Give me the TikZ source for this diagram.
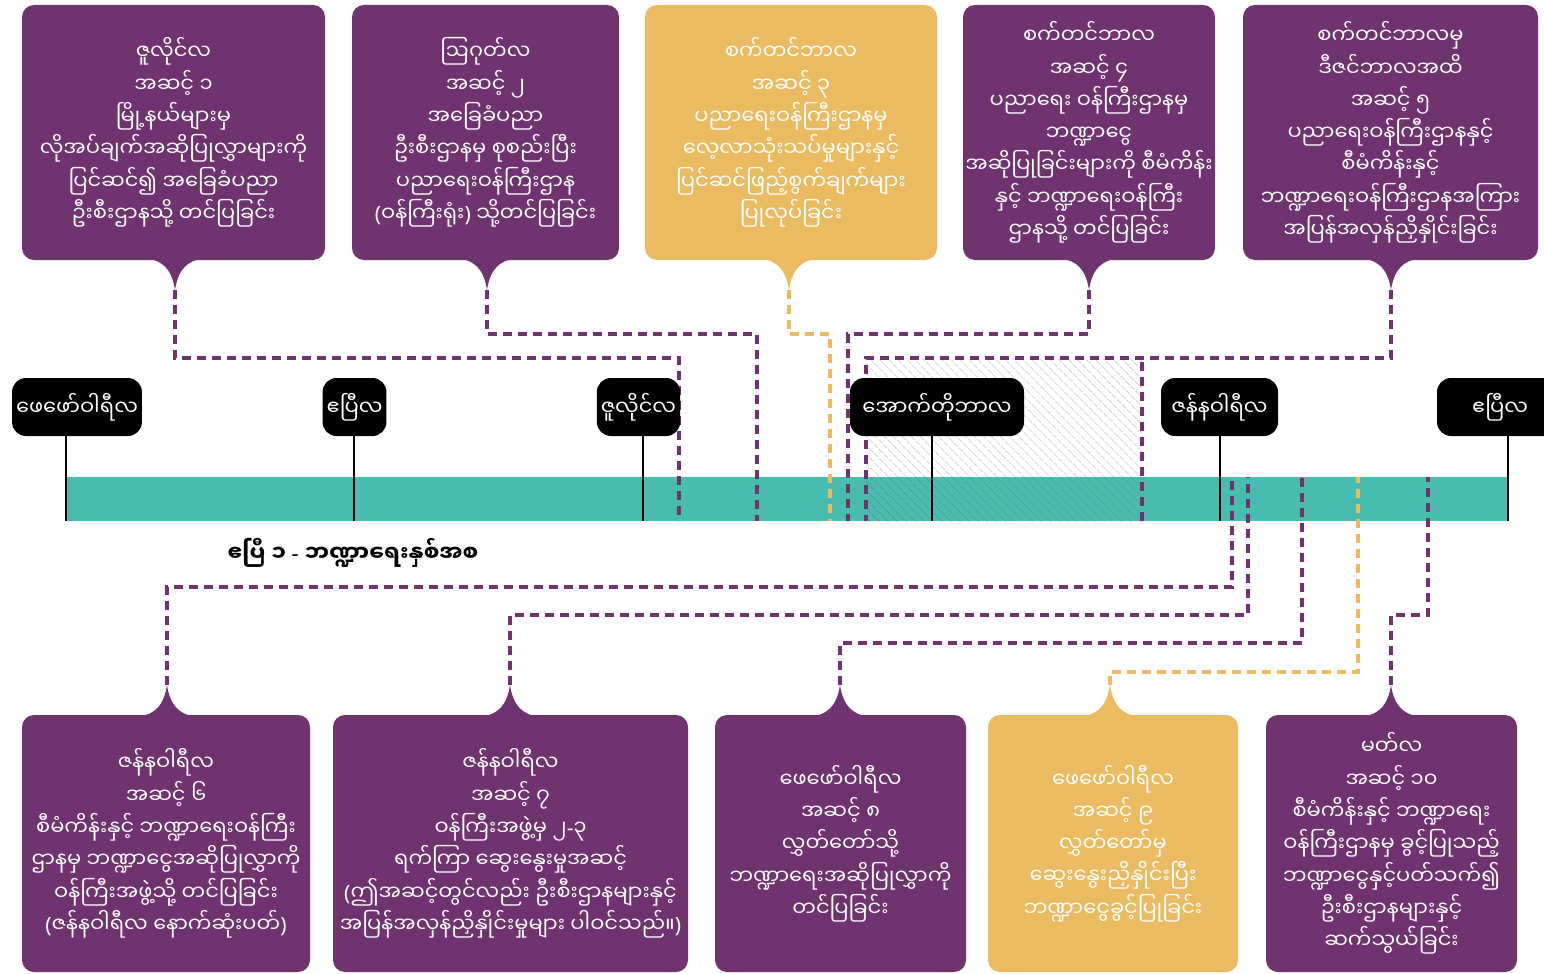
\documentclass[tikz,border=0pt]{standalone}
\usepackage{fontspec}
\newfontfamily\mmfont[Script=Myanmar]{Noto Sans Myanmar UI}
\newfontfamily\latfont{Noto Sans}
\newcommand\lat[1]{{\latfont #1}}
\usetikzlibrary{patterns.meta}

\definecolor{plum}{HTML}{6F3370}
\definecolor{gold}{HTML}{EABB60}
\definecolor{sea}{HTML}{48BDAF}

\begin{document}
\begin{tikzpicture}[x=1pt, y=-1pt,
    mm/.style={font=\mmfont\fontsize{21}{32.3}\selectfont},
    stagebox/.style={mm, text=white, align=center, rounded corners=12pt, inner sep=0pt},
    monthtag/.style={mm, fill=black, text=white, rounded corners=14pt,
        minimum height=58pt, inner xsep=4pt},
    link/.style={plum, line width=3.2pt, dash pattern=on 9pt off 6pt},
    goldlink/.style={link, gold},
    stem/.style={black, line width=2.4pt}]
    \useasboundingbox (0,0) rectangle (1544,974);

    % upper stages
    \node[stagebox, fill=plum, minimum width=303pt, minimum height=255pt] (s1) at (173.5,132.5)
        {ဇူလိုင်လ\\အဆင့် ၁\\မြို့နယ်များမှ\\လိုအပ်ချက်အဆိုပြုလွှာများကို\\ပြင်ဆင်၍ အခြေခံပညာ\\ဦးစီးဌာနသို့ တင်ပြခြင်း};
    \node[stagebox, fill=plum, minimum width=267pt, minimum height=255pt] (s2) at (485.5,132.5)
        {ဩဂုတ်လ\\အဆင့် ၂\\အခြေခံပညာ\\ဦးစီးဌာနမှ စုစည်းပြီး\\ပညာရေးဝန်ကြီးဌာန\\\lat{(}ဝန်ကြီးရုံး\lat{)} သို့တင်ပြခြင်း};
    \node[stagebox, fill=gold, minimum width=292pt, minimum height=255pt] (s3) at (791,132.5)
        {စက်တင်ဘာလ\\အဆင့် ၃\\ပညာရေးဝန်ကြီးဌာနမှ\\လေ့လာသုံးသပ်မှုများနှင့်\\ပြင်ဆင်ဖြည့်စွက်ချက်များ\\ပြုလုပ်ခြင်း};
    \node[stagebox, fill=plum, minimum width=252pt, minimum height=255pt] (s4) at (1089,132.5)
        {စက်တင်ဘာလ\\အဆင့် ၄\\ပညာရေး ဝန်ကြီးဌာနမှ\\ဘဏ္ဍာငွေ\\အဆိုပြုခြင်းများကို စီမံကိန်း\\နှင့် ဘဏ္ဍာရေးဝန်ကြီး\\ဌာနသို့ တင်ပြခြင်း};
    \node[stagebox, fill=plum, minimum width=295pt, minimum height=255pt] (s5) at (1390.5,132.5)
        {စက်တင်ဘာလမှ\\ဒီဇင်ဘာလအထိ\\အဆင့် ၅\\ပညာရေးဝန်ကြီးဌာနနှင့်\\စီမံကိန်းနှင့်\\ဘဏ္ဍာရေးဝန်ကြီးဌာနအကြား\\အပြန်အလှန်ညှိနှိုင်းခြင်း};

    % lower stages
    \node[stagebox, fill=plum, minimum width=288pt, minimum height=257pt] (s6) at (166,843.5)
        {ဇန်နဝါရီလ\\အဆင့် ၆\\စီမံကိန်းနှင့် ဘဏ္ဍာရေးဝန်ကြီး\\ဌာနမှ ဘဏ္ဍာငွေအဆိုပြုလွှာကို\\ဝန်ကြီးအဖွဲ့သို့ တင်ပြခြင်း\\\lat{(}ဇန်နဝါရီလ နောက်ဆုံးပတ်\lat{)}};
    \node[stagebox, fill=plum, minimum width=355pt, minimum height=257pt] (s7) at (510.5,843.5)
        {ဇန်နဝါရီလ\\အဆင့် ၇\\ဝန်ကြီးအဖွဲ့မှ ၂\lat{-}၃\\ရက်ကြာ ဆွေးနွေးမှုအဆင့်\\\lat{(}ဤအဆင့်တွင်လည်း ဦးစီးဌာနများနှင့်\\အပြန်အလှန်ညှိနှိုင်းမှုများ ပါဝင်သည်။\lat{)}};
    \node[stagebox, fill=plum, minimum width=251pt, minimum height=257pt] (s8) at (840.5,843.5)
        {ဖေဖော်ဝါရီလ\\အဆင့် ၈\\လွှတ်တော်သို့\\ဘဏ္ဍာရေးအဆိုပြုလွှာကို\\တင်ပြခြင်း};
    \node[stagebox, fill=gold, minimum width=250pt, minimum height=257pt] (s9) at (1113,843.5)
        {ဖေဖော်ဝါရီလ\\အဆင့် ၉\\လွှတ်တော်မှ\\ဆွေးနွေးညှိနှိုင်းပြီး\\ဘဏ္ဍာငွေခွင့်ပြုခြင်း};
    \node[stagebox, fill=plum, minimum width=251pt, minimum height=257pt] (s10) at (1391.5,843.5)
        {မတ်လ\\အဆင့် ၁၀\\စီမံကိန်းနှင့် ဘဏ္ဍာရေး\\ဝန်ကြီးဌာနမှ ခွင့်ပြုသည့်\\ဘဏ္ဍာငွေနှင့်ပတ်သက်၍\\ဦးစီးဌာနများနှင့်\\ဆက်သွယ်ခြင်း};

    \foreach \n/\x/\c in {1/175/plum, 2/487/plum, 3/789/gold, 4/1089/plum, 5/1391/plum} {
        \fill[\c] (\x-36,258) .. controls (\x-12,258) and (\x-3,270) .. (\x,290)
            .. controls (\x+3,270) and (\x+12,258) .. (\x+36,258) -- cycle;
        \coordinate (up\n) at (\x,290);
    }
    \foreach \n/\x/\c in {6/167/plum, 7/510/plum, 8/840/plum, 9/1110/gold, 10/1391/plum} {
        \fill[\c] (\x-36,717) .. controls (\x-12,717) and (\x-3,705) .. (\x,685)
            .. controls (\x+3,705) and (\x+12,717) .. (\x+36,717) -- cycle;
        \coordinate (dn\n) at (\x,685);
    }

    % timeline
    \fill[sea] (66,477) rectangle (1508,521);
    \fill[pattern={Lines[angle=-45, distance=6.5pt, line width=0.8pt]}, pattern color=plum,
        fill opacity=0.3] (866,358) rectangle (1142,521);

    \foreach \m/\x in {feb/66, apr/354, jul/643, oct/932, jan/1220, apr2/1508}
        \coordinate (m\m) at (\x,521);

    % links above the bar
    \coordinate (e1) at (679,521);
    \coordinate (e2) at (757,521);
    \coordinate (e3) at (830,521);
    \coordinate (e4) at (848,521);
    \coordinate (e5) at (866,521);
    \coordinate (e5b) at (1142,521);
    \draw[link] (up1) -- ++(0,68) -| (e1);
    \draw[link] (up2) -- ++(0,44) -| (e2);
    \draw[goldlink] (up3) -- ++(0,44) -| (e3);
    \draw[link] (up4) -- ++(0,44) -| (e4);
    \draw[link] (up5) -- ++(0,68) -| (e5);
    \draw[link] (e5b) -- (e5b |- 0,358);

    % links below the bar
    \coordinate (b6) at (1232,477);
    \coordinate (b7) at (1248,477);
    \coordinate (b8) at (1302,477);
    \coordinate (b9) at (1358,477);
    \coordinate (b10) at (1428,477);
    \draw[link] (dn6) -- ++(0,-98) -| (b6);
    \draw[link] (dn7) -- ++(0,-70) -| (b7);
    \draw[link] (dn8) -- ++(0,-42) -| (b8);
    \draw[goldlink] (dn9) -- ++(0,-13) -| (b9);
    \draw[link] (dn10) -- ++(0,-70) -| (b10);

    % months
    \node[monthtag, minimum width=124pt] (feb) at (77,407) {ဖေဖော်ဝါရီလ};
    \node[monthtag, minimum width=63pt] (apr) at (354.5,407) {ဧပြီလ};
    \node[monthtag, minimum width=78pt] (jul) at (638.5,407) {ဇူလိုင်လ};
    \node[monthtag, minimum width=174pt] (oct) at (937,407) {အောက်တိုဘာလ};
    \node[monthtag, minimum width=117pt] (jan) at (1219.5,407) {ဇန်နဝါရီလ};
    \node[monthtag, minimum width=126pt] (apr2) at (1500,407) {ဧပြီလ};
    \foreach \m in {feb, apr, jul, oct, jan, apr2}
        \draw[stem] (m\m) -- (m\m |- \m.south);

    \node[font=\mmfont\bfseries\fontsize{22}{26}\selectfont] (cap) at (353,553) {ဧပြီ ၁ \lat{-} ဘဏ္ဍာရေးနှစ်အစ};
\end{tikzpicture}
\end{document}
